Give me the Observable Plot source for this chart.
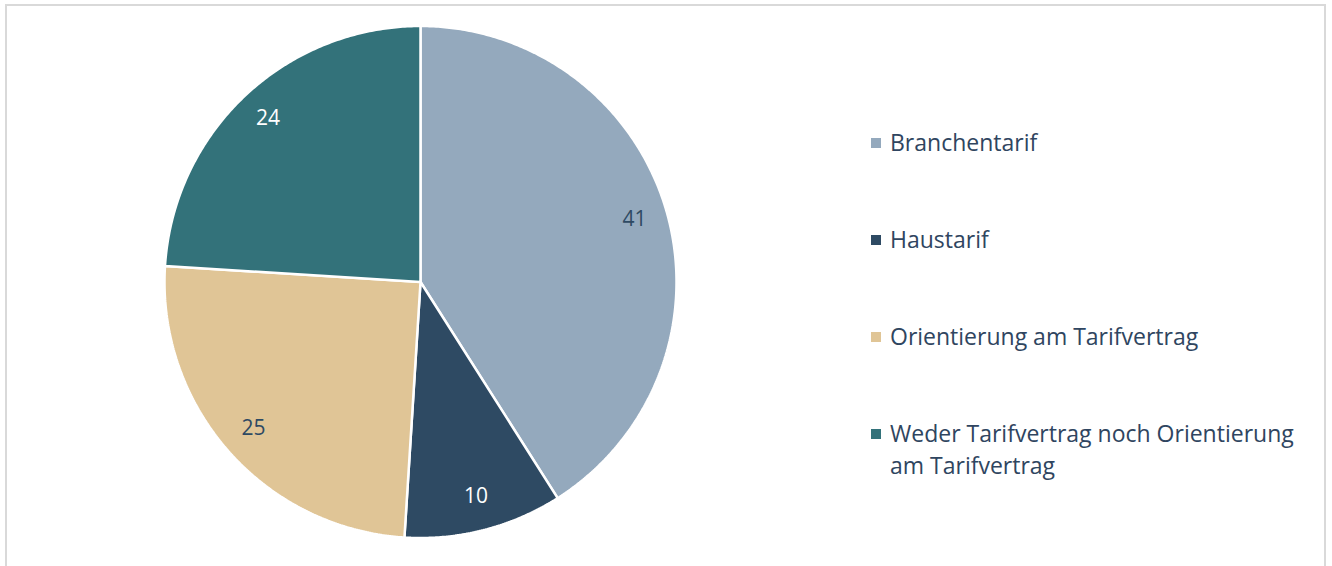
<!DOCTYPE html>
<html>
<head>
<meta charset="utf-8">
<script src="https://cdn.jsdelivr.net/npm/d3@7"></script>
<script src="https://cdn.jsdelivr.net/npm/@observablehq/plot@0.6"></script>
<style>
  html, body { margin: 0; padding: 0; background: #fff; }
  #wrap { position: relative; width: 1332px; height: 566px; overflow: hidden; font-family: "Open Sans", Lato, sans-serif; }
  #frame { position: absolute; left: 5px; top: 4px; width: 1321px; height: 620px; border: 2px solid #d9d9d9; box-sizing: border-box; }
  #chart { position: absolute; left: 0; top: 0; }
  #legend { position: absolute; left: 871px; top: 126px; color: #2f4560; font-size: 23px; }
  .item { position: absolute; left: 0; white-space: nowrap; line-height: 32px; }
  .sw { position: absolute; left: 0; top: 12px; width: 10px; height: 10px; }
  .lab { position: absolute; left: 19px; top: 0; }
</style>
</head>
<body>
<div id="wrap">
  <div id="frame"></div>
  <div id="chart"></div>
  <div id="legend"></div>
</div>
<script>
const categories = ["Branchentarif", "Haustarif", "Orientierung am Tarifvertrag", "Weder Tarifvertrag noch Orientierung am Tarifvertrag"];
const legendLines = [["Branchentarif"], ["Haustarif"], ["Orientierung am Tarifvertrag"], ["Weder Tarifvertrag noch Orientierung", "am Tarifvertrag"]];
const values = [41, 10, 25, 24];
const colors = ["#94a9bd", "#2e4a63", "#e0c596", "#33727a"];
const labelColors = ["#2e4a63", "#ffffff", "#2e4a63", "#ffffff"];

const total = d3.sum(values);
const cum = d3.cumsum(values);
const slices = categories.map((c, i) => {
  const a0 = (cum[i] - values[i]) / total * 2 * Math.PI;
  const a1 = cum[i] / total * 2 * Math.PI;
  return {category: c, value: values[i], a0, a1, i};
});

// polygon vertices for each slice (center + arc)
const pts = [];
for (const s of slices) {
  pts.push({category: s.category, x: 0, y: 0});
  const n = Math.max(2, Math.ceil((s.a1 - s.a0) / (Math.PI / 360)));
  for (let k = 0; k <= n; k++) {
    const a = s.a0 + (s.a1 - s.a0) * k / n;
    pts.push({category: s.category, x: Math.sin(a), y: Math.cos(a)});
  }
  pts.push({category: s.category, x: 0, y: 0});
}

const labels = slices.map(s => {
  const m = (s.a0 + s.a1) / 2;
  const r = 0.87;
  return {text: String(s.value), x: r * Math.sin(m), y: r * Math.cos(m), color: labelColors[s.i]};
});

const cx = 420, cy = 281.5, R = 256;
const plot = Plot.plot({
  width: 1332,
  height: 566,
  style: {background: "transparent", fontFamily: "'Open Sans', Lato, sans-serif"},
  x: {domain: [-1, 1], range: [cx - R, cx + R], axis: null},
  y: {domain: [-1, 1], range: [cy + R, cy - R], axis: null},
  color: {domain: categories, range: colors},
  marks: [
    Plot.line(pts, {x: "x", y: "y", z: "category", fill: "category", stroke: "#ffffff", strokeWidth: 2.5, strokeLinejoin: "miter", curve: "linear"}),
    Plot.text(labels, {x: "x", y: "y", text: "text", fill: d => d.color, fontSize: 21, dy: -1})
  ]
});
document.getElementById("chart").appendChild(plot);

const legend = document.getElementById("legend");
categories.forEach((c, i) => {
  const item = document.createElement("div");
  item.className = "item";
  item.style.top = (i * 97) + "px";
  const sw = document.createElement("div");
  sw.className = "sw";
  sw.style.background = colors[i];
  const lab = document.createElement("div");
  lab.className = "lab";
  lab.innerHTML = legendLines[i].join("<br>");
  item.appendChild(sw);
  item.appendChild(lab);
  legend.appendChild(item);
});
</script>
</body>
</html>
